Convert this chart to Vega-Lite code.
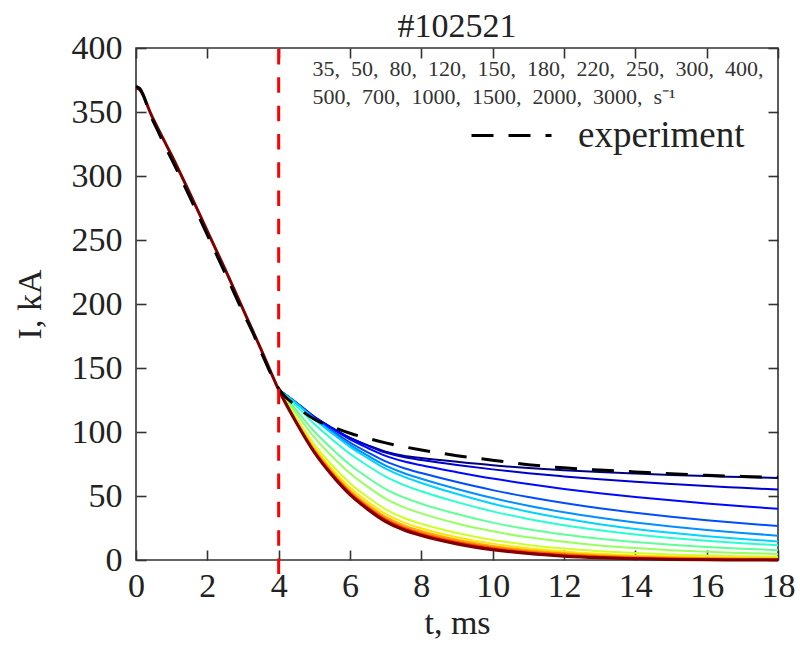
{
  "$schema": "https://vega.github.io/schema/vega-lite/v6.json",
  "width": 642,
  "height": 512,
  "autosize": {"type": "none"},
  "padding": {"left": 136, "top": 48, "right": 22, "bottom": 88},
  "background": "white",
  "config": {
    "view": {"stroke": "#333", "strokeWidth": 1.6},
    "axis": {"grid": false, "domain": false, "labelFlush": false, "labelFont": "Liberation Serif", "labelFontSize": 34, "labelColor": "#222", "titleFont": "Liberation Serif", "titleFontSize": 34, "titleFontWeight": "normal", "titleColor": "#222", "tickColor": "#333", "tickWidth": 1.6, "tickSize": -10}
  },
  "datasets": {
    "sim": [
      {"r":35,"t":4,"I":133},{"r":35,"t":4.5,"I":122.4},{"r":35,"t":5,"I":111.4},{"r":35,"t":5.5,"I":102.9},{"r":35,"t":6,"I":95.3},{"r":35,"t":6.5,"I":89.6},{"r":35,"t":7,"I":84.6},{"r":35,"t":7.5,"I":81.5},{"r":35,"t":8,"I":79.7},{"r":35,"t":9,"I":76.7},{"r":35,"t":10,"I":74.0},{"r":35,"t":11,"I":71.9},{"r":35,"t":12,"I":70.2},{"r":35,"t":13,"I":68.7},{"r":35,"t":14,"I":67.5},{"r":35,"t":15,"I":66.5},{"r":35,"t":16,"I":65.6},{"r":35,"t":17,"I":64.8},{"r":35,"t":18,"I":64.0},
      {"r":50,"t":4,"I":133},{"r":50,"t":4.5,"I":122.7},{"r":50,"t":5,"I":111.8},{"r":50,"t":5.5,"I":103.2},{"r":50,"t":6,"I":95.3},{"r":50,"t":6.5,"I":89.3},{"r":50,"t":7,"I":83.9},{"r":50,"t":7.5,"I":80.4},{"r":50,"t":8,"I":78.2},{"r":50,"t":9,"I":74.3},{"r":50,"t":10,"I":70.8},{"r":50,"t":11,"I":67.8},{"r":50,"t":12,"I":65.3},{"r":50,"t":13,"I":63.0},{"r":50,"t":14,"I":61.1},{"r":50,"t":15,"I":59.4},{"r":50,"t":16,"I":57.8},{"r":50,"t":17,"I":56.4},{"r":50,"t":18,"I":55.0},
      {"r":80,"t":4,"I":133},{"r":80,"t":4.5,"I":122.9},{"r":80,"t":5,"I":111.8},{"r":80,"t":5.5,"I":102.7},{"r":80,"t":6,"I":94.3},{"r":80,"t":6.5,"I":87.5},{"r":80,"t":7,"I":81.3},{"r":80,"t":7.5,"I":77.1},{"r":80,"t":8,"I":74.0},{"r":80,"t":9,"I":68.6},{"r":80,"t":10,"I":63.6},{"r":80,"t":11,"I":59.3},{"r":80,"t":12,"I":55.5},{"r":80,"t":13,"I":52.1},{"r":80,"t":14,"I":49.2},{"r":80,"t":15,"I":46.6},{"r":80,"t":16,"I":44.2},{"r":80,"t":17,"I":42.0},{"r":80,"t":18,"I":40.0},
      {"r":120,"t":4,"I":133},{"r":120,"t":4.5,"I":122.6},{"r":120,"t":5,"I":111.0},{"r":120,"t":5.5,"I":101.1},{"r":120,"t":6,"I":91.8},{"r":120,"t":6.5,"I":84.1},{"r":120,"t":7,"I":77.0},{"r":120,"t":7.5,"I":71.9},{"r":120,"t":8,"I":67.9},{"r":120,"t":9,"I":60.9},{"r":120,"t":10,"I":54.6},{"r":120,"t":11,"I":49.2},{"r":120,"t":12,"I":44.5},{"r":120,"t":13,"I":40.4},{"r":120,"t":14,"I":36.9},{"r":120,"t":15,"I":33.8},{"r":120,"t":16,"I":31.1},{"r":120,"t":17,"I":28.7},{"r":120,"t":18,"I":26.5},
      {"r":150,"t":4,"I":133},{"r":150,"t":4.5,"I":122.5},{"r":150,"t":5,"I":110.4},{"r":150,"t":5.5,"I":99.9},{"r":150,"t":6,"I":89.9},{"r":150,"t":6.5,"I":81.5},{"r":150,"t":7,"I":73.8},{"r":150,"t":7.5,"I":68.0},{"r":150,"t":8,"I":63.5},{"r":150,"t":9,"I":55.5},{"r":150,"t":10,"I":48.4},{"r":150,"t":11,"I":42.4},{"r":150,"t":12,"I":37.3},{"r":150,"t":13,"I":33.0},{"r":150,"t":14,"I":29.3},{"r":150,"t":15,"I":26.1},{"r":150,"t":16,"I":23.4},{"r":150,"t":17,"I":21.1},{"r":150,"t":18,"I":19.0},
      {"r":180,"t":4,"I":133},{"r":180,"t":4.5,"I":122.3},{"r":180,"t":5,"I":109.9},{"r":180,"t":5.5,"I":98.9},{"r":180,"t":6,"I":88.4},{"r":180,"t":6.5,"I":79.6},{"r":180,"t":7,"I":71.3},{"r":180,"t":7.5,"I":65.1},{"r":180,"t":8,"I":60.2},{"r":180,"t":9,"I":51.5},{"r":180,"t":10,"I":44.0},{"r":180,"t":11,"I":37.7},{"r":180,"t":12,"I":32.4},{"r":180,"t":13,"I":28.0},{"r":180,"t":14,"I":24.3},{"r":180,"t":15,"I":21.2},{"r":180,"t":16,"I":18.6},{"r":180,"t":17,"I":16.4},{"r":180,"t":18,"I":14.5},
      {"r":220,"t":4,"I":133},{"r":220,"t":4.5,"I":120.2},{"r":220,"t":5,"I":106.2},{"r":220,"t":5.5,"I":94.2},{"r":220,"t":6,"I":83.0},{"r":220,"t":6.5,"I":73.6},{"r":220,"t":7,"I":65.1},{"r":220,"t":7.5,"I":58.7},{"r":220,"t":8,"I":53.7},{"r":220,"t":9,"I":45.2},{"r":220,"t":10,"I":38.0},{"r":220,"t":11,"I":32.1},{"r":220,"t":12,"I":27.2},{"r":220,"t":13,"I":23.2},{"r":220,"t":14,"I":19.9},{"r":220,"t":15,"I":17.2},{"r":220,"t":16,"I":15.0},{"r":220,"t":17,"I":13.1},{"r":220,"t":18,"I":11.5},
      {"r":250,"t":4,"I":133},{"r":250,"t":4.5,"I":116.8},{"r":250,"t":5,"I":100.4},{"r":250,"t":5.5,"I":86.7},{"r":250,"t":6,"I":74.4},{"r":250,"t":6.5,"I":64.3},{"r":250,"t":7,"I":55.4},{"r":250,"t":7.5,"I":48.9},{"r":250,"t":8,"I":44.0},{"r":250,"t":9,"I":35.9},{"r":250,"t":10,"I":29.2},{"r":250,"t":11,"I":24.0},{"r":250,"t":12,"I":19.9},{"r":250,"t":13,"I":16.6},{"r":250,"t":14,"I":14.0},{"r":250,"t":15,"I":11.9},{"r":250,"t":16,"I":10.2},{"r":250,"t":17,"I":8.8},{"r":250,"t":18,"I":7.7},
      {"r":300,"t":4,"I":133},{"r":300,"t":4.5,"I":114.1},{"r":300,"t":5,"I":95.8},{"r":300,"t":5.5,"I":80.9},{"r":300,"t":6,"I":67.7},{"r":300,"t":6.5,"I":57.1},{"r":300,"t":7,"I":47.9},{"r":300,"t":7.5,"I":41.3},{"r":300,"t":8,"I":36.4},{"r":300,"t":9,"I":28.5},{"r":300,"t":10,"I":22.4},{"r":300,"t":11,"I":17.7},{"r":300,"t":12,"I":14.2},{"r":300,"t":13,"I":11.4},{"r":300,"t":14,"I":9.3},{"r":300,"t":15,"I":7.7},{"r":300,"t":16,"I":6.4},{"r":300,"t":17,"I":5.5},{"r":300,"t":18,"I":4.7},
      {"r":400,"t":4,"I":133},{"r":400,"t":4.5,"I":110.8},{"r":400,"t":5,"I":90.4},{"r":400,"t":5.5,"I":74.0},{"r":400,"t":6,"I":60.0},{"r":400,"t":6.5,"I":49.0},{"r":400,"t":7,"I":39.6},{"r":400,"t":7.5,"I":33.0},{"r":400,"t":8,"I":28.3},{"r":400,"t":9,"I":21.1},{"r":400,"t":10,"I":15.7},{"r":400,"t":11,"I":11.8},{"r":400,"t":12,"I":8.9},{"r":400,"t":13,"I":6.9},{"r":400,"t":14,"I":5.4},{"r":400,"t":15,"I":4.3},{"r":400,"t":16,"I":3.5},{"r":400,"t":17,"I":2.9},{"r":400,"t":18,"I":2.5},
      {"r":500,"t":4,"I":133},{"r":500,"t":4.5,"I":109.4},{"r":500,"t":5,"I":88.0},{"r":500,"t":5.5,"I":71.0},{"r":500,"t":6,"I":56.6},{"r":500,"t":6.5,"I":45.4},{"r":500,"t":7,"I":36.0},{"r":500,"t":7.5,"I":29.4},{"r":500,"t":8,"I":24.8},{"r":500,"t":9,"I":17.8},{"r":500,"t":10,"I":12.8},{"r":500,"t":11,"I":9.2},{"r":500,"t":12,"I":6.7},{"r":500,"t":13,"I":4.9},{"r":500,"t":14,"I":3.6},{"r":500,"t":15,"I":2.8},{"r":500,"t":16,"I":2.2},{"r":500,"t":17,"I":1.8},{"r":500,"t":18,"I":1.5},
      {"r":700,"t":4,"I":133},{"r":700,"t":4.5,"I":108.5},{"r":700,"t":5,"I":86.4},{"r":700,"t":5.5,"I":69.1},{"r":700,"t":6,"I":54.4},{"r":700,"t":6.5,"I":43.1},{"r":700,"t":7,"I":33.7},{"r":700,"t":7.5,"I":27.2},{"r":700,"t":8,"I":22.6},{"r":700,"t":9,"I":15.8},{"r":700,"t":10,"I":11.0},{"r":700,"t":11,"I":7.7},{"r":700,"t":12,"I":5.3},{"r":700,"t":13,"I":3.7},{"r":700,"t":14,"I":2.7},{"r":700,"t":15,"I":1.9},{"r":700,"t":16,"I":1.5},{"r":700,"t":17,"I":1.2},{"r":700,"t":18,"I":1.0},
      {"r":1000,"t":4,"I":133},{"r":1000,"t":4.5,"I":107.8},{"r":1000,"t":5,"I":85.4},{"r":1000,"t":5.5,"I":67.8},{"r":1000,"t":6,"I":53.0},{"r":1000,"t":6.5,"I":41.6},{"r":1000,"t":7,"I":32.1},{"r":1000,"t":7.5,"I":25.6},{"r":1000,"t":8,"I":21.1},{"r":1000,"t":9,"I":14.4},{"r":1000,"t":10,"I":9.8},{"r":1000,"t":11,"I":6.6},{"r":1000,"t":12,"I":4.4},{"r":1000,"t":13,"I":2.9},{"r":1000,"t":14,"I":2.0},{"r":1000,"t":15,"I":1.3},{"r":1000,"t":16,"I":1.0},{"r":1000,"t":17,"I":0.7},{"r":1000,"t":18,"I":0.6},
      {"r":1500,"t":4,"I":133},{"r":1500,"t":4.5,"I":107.5},{"r":1500,"t":5,"I":84.9},{"r":1500,"t":5.5,"I":67.1},{"r":1500,"t":6,"I":52.2},{"r":1500,"t":6.5,"I":40.8},{"r":1500,"t":7,"I":31.3},{"r":1500,"t":7.5,"I":24.8},{"r":1500,"t":8,"I":20.2},{"r":1500,"t":9,"I":13.6},{"r":1500,"t":10,"I":9.0},{"r":1500,"t":11,"I":5.9},{"r":1500,"t":12,"I":3.8},{"r":1500,"t":13,"I":2.4},{"r":1500,"t":14,"I":1.5},{"r":1500,"t":15,"I":0.9},{"r":1500,"t":16,"I":0.6},{"r":1500,"t":17,"I":0.4},{"r":1500,"t":18,"I":0.3},
      {"r":2000,"t":4,"I":133},{"r":2000,"t":4.5,"I":107.3},{"r":2000,"t":5,"I":84.6},{"r":2000,"t":5.5,"I":66.7},{"r":2000,"t":6,"I":51.7},{"r":2000,"t":6.5,"I":40.3},{"r":2000,"t":7,"I":30.8},{"r":2000,"t":7.5,"I":24.2},{"r":2000,"t":8,"I":19.7},{"r":2000,"t":9,"I":13.1},{"r":2000,"t":10,"I":8.5},{"r":2000,"t":11,"I":5.4},{"r":2000,"t":12,"I":3.4},{"r":2000,"t":13,"I":2.0},{"r":2000,"t":14,"I":1.1},{"r":2000,"t":15,"I":0.6},{"r":2000,"t":16,"I":0.3},{"r":2000,"t":17,"I":0.2},{"r":2000,"t":18,"I":0.1},
      {"r":3000,"t":0,"I":369},{"r":3000,"t":0.1,"I":367.5},{"r":3000,"t":0.2,"I":363},{"r":3000,"t":0.3,"I":356.5},{"r":3000,"t":0.4,"I":349.5},{"r":3000,"t":0.6,"I":338},{"r":3000,"t":0.8,"I":327},{"r":3000,"t":1,"I":316},{"r":3000,"t":1.5,"I":287},{"r":3000,"t":2,"I":257},{"r":3000,"t":2.5,"I":227},{"r":3000,"t":3,"I":196},{"r":3000,"t":3.5,"I":165},{"r":3000,"t":4,"I":133},{"r":3000,"t":4.5,"I":107},{"r":3000,"t":5,"I":84},{"r":3000,"t":5.5,"I":66},{"r":3000,"t":6,"I":51},{"r":3000,"t":6.5,"I":39.5},{"r":3000,"t":7,"I":30},{"r":3000,"t":7.5,"I":23.5},{"r":3000,"t":8,"I":19},{"r":3000,"t":9,"I":12.5},{"r":3000,"t":10,"I":8},{"r":3000,"t":11,"I":5},{"r":3000,"t":12,"I":3},{"r":3000,"t":13,"I":1.7},{"r":3000,"t":14,"I":0.9},{"r":3000,"t":15,"I":0.4},{"r":3000,"t":16,"I":0.15},{"r":3000,"t":17,"I":0.05},{"r":3000,"t":18,"I":0}
    ],
    "exp": [
      {"series":"experiment","t":0,"I":370},{"series":"experiment","t":0.1,"I":368.5},{"series":"experiment","t":0.2,"I":363.5},{"series":"experiment","t":0.3,"I":356},{"series":"experiment","t":0.4,"I":348},{"series":"experiment","t":0.6,"I":336},{"series":"experiment","t":0.8,"I":324},{"series":"experiment","t":1,"I":313},{"series":"experiment","t":1.5,"I":284},{"series":"experiment","t":2,"I":254},{"series":"experiment","t":2.5,"I":224},{"series":"experiment","t":3,"I":193.5},{"series":"experiment","t":3.3,"I":176},{"series":"experiment","t":3.5,"I":163},{"series":"experiment","t":4,"I":134},{"series":"experiment","t":4.5,"I":120},{"series":"experiment","t":5,"I":110},{"series":"experiment","t":5.5,"I":104},{"series":"experiment","t":6,"I":99},{"series":"experiment","t":6.5,"I":95},{"series":"experiment","t":7,"I":91.5},{"series":"experiment","t":7.5,"I":88.5},{"series":"experiment","t":8,"I":86},{"series":"experiment","t":9,"I":81.5},{"series":"experiment","t":10,"I":78},{"series":"experiment","t":11,"I":74.5},{"series":"experiment","t":12,"I":72},{"series":"experiment","t":13,"I":70.3},{"series":"experiment","t":14,"I":68.8},{"series":"experiment","t":15,"I":67.3},{"series":"experiment","t":16,"I":66.2},{"series":"experiment","t":17,"I":65.3},{"series":"experiment","t":18,"I":64.6}
    ]
  },
  "layer": [
    {
      "data": {"name": "sim"},
      "mark": {"type": "line", "interpolate": "monotone"},
      "encoding": {
        "x": {"field": "t", "type": "quantitative", "scale": {"domain": [0, 18], "nice": false}, "axis": {"values": [0,2,4,6,8,10,12,14,16,18], "title": "t, ms", "labelPadding": 19, "titlePadding": 3}},
        "y": {"field": "I", "type": "quantitative", "scale": {"domain": [0, 400], "nice": false}, "axis": {"values": [0,50,100,150,200,250,300,350,400], "title": "I, kA", "labelPadding": 24, "titlePadding": 24}},
        "color": {"field": "r", "type": "ordinal", "scale": {"domain": [35,50,80,120,150,180,220,250,300,400,500,700,1000,1500,2000,3000], "range": ["#000080","#0000cd","#0009ff","#004dff","#0090ff","#00d4ff","#29ffce","#60ff97","#97ff60","#ceff29","#ffe600","#ffa700","#ff6800","#ff2900","#cd0000","#800000"]}, "legend": null},
        "strokeWidth": {"condition": {"test": "datum.r == 3000", "value": 3}, "value": 2}
      }
    },
    {
      "data": {"name": "exp"},
      "mark": {"type": "line", "strokeWidth": 3, "color": "#000", "interpolate": "monotone"},
      "encoding": {
        "x": {"field": "t", "type": "quantitative", "axis": {"orient": "top", "labels": false, "title": null, "minExtent": 0, "maxExtent": 0, "values": [0,2,4,6,8,10,12,14,16,18]}},
        "y": {"field": "I", "type": "quantitative", "axis": {"orient": "right", "labels": false, "title": null, "minExtent": 0, "maxExtent": 0, "values": [0,50,100,150,200,250,300,350,400]}},
        "strokeDash": {"field": "series", "type": "nominal", "scale": {"domain": ["experiment"], "range": [[22, 15]]},
          "legend": {"orient": "none", "legendX": 334, "legendY": 46, "title": null, "symbolType": "stroke", "symbolSize": 6400, "symbolStrokeWidth": 3, "symbolStrokeColor": "#000", "labelFont": "Liberation Serif", "labelFontSize": 37, "labelColor": "#222", "labelOffset": 25, "labelLimit": 400, "padding": 0}}
      }
    },
    {
      "data": {"values": [{}]},
      "mark": {"type": "rule", "color": "#ff0000", "strokeWidth": 3, "strokeDash": [15.5, 12.8]},
      "encoding": {
        "x": {"datum": 4, "type": "quantitative", "axis": null},
        "y": {"datum": -10.9, "type": "quantitative", "axis": null},
        "y2": {"datum": 400}
      }
    },
    {
      "data": {"values": [{}]},
      "mark": {"type": "text", "align": "left", "baseline": "alphabetic", "font": "Liberation Serif", "fontSize": 22, "lineHeight": 28, "color": "#333"},
      "encoding": {
        "x": {"datum": 4.95, "type": "quantitative", "axis": null},
        "y": {"datum": 378.5, "type": "quantitative", "axis": null},
        "text": {"value": ["35,\u200250,\u200280,\u2002120,\u2002150,\u2002180,\u2002220,\u2002250,\u2002300,\u2002400,", "500,\u2002700,\u20021000,\u20021500,\u20022000,\u20023000,\u2002s⁻¹"]}
      }
    },
    {
      "data": {"values": [{}]},
      "mark": {"type": "text", "align": "center", "baseline": "alphabetic", "font": "Liberation Serif", "fontSize": 34, "color": "#222"},
      "encoding": {
        "x": {"datum": 9, "type": "quantitative", "axis": null},
        "y": {"datum": 408.6, "type": "quantitative", "axis": null},
        "text": {"value": "#102521"}
      }
    }
  ],
  "resolve": {"axis": {"x": "independent", "y": "independent"}}
}
